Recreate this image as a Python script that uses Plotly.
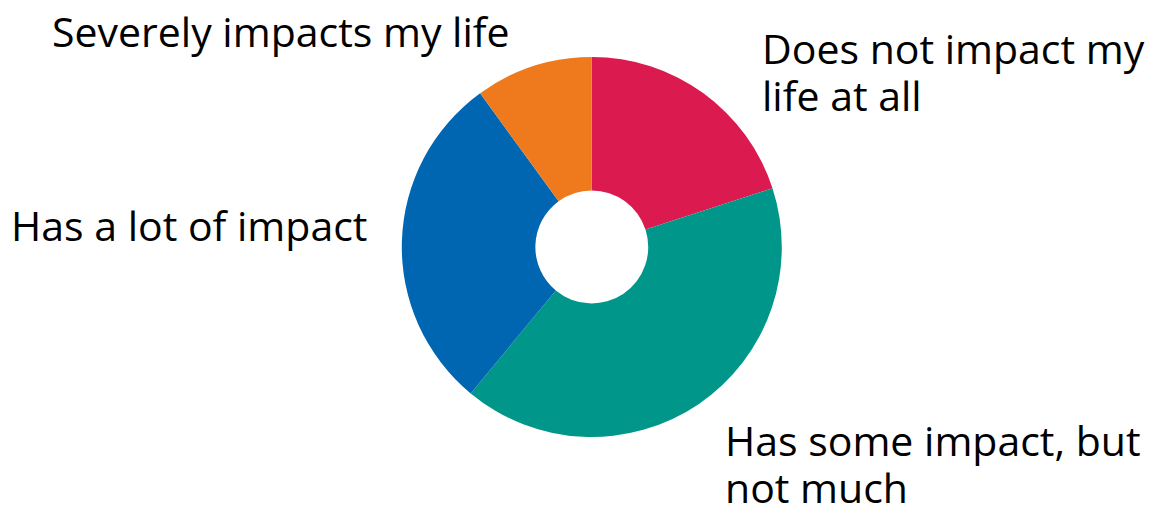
import plotly.graph_objects as go

# Survey responses: how much the condition affects daily life (%)
labels = [
    "Does not impact my life at all",
    "Has some impact, but not much",
    "Has a lot of impact",
    "Severely impacts my life",
]
values = [20, 41, 29, 10]
colors = ["#DB1A4F", "#00978A", "#0066B2", "#EF7A1E"]

# Label text beside the chart, split into its displayed lines
label_lines = [
    ["Does not impact my", "life at all"],
    ["Has some impact, but", "not much"],
    ["Has a lot of impact"],
    ["Severely impacts my life"],
]

W, H = 1153, 510
cx, cy, r = 591.8, 247.0, 190.0

fig = go.Figure(
    go.Pie(
        labels=labels,
        values=values,
        marker=dict(colors=colors, line=dict(width=0)),
        hole=0.297,
        sort=False,
        direction="clockwise",
        rotation=0,
        textinfo="none",
        hoverinfo="label+percent",
        domain=dict(
            x=[(cx - r) / W, (cx + r) / W],
            y=[1 - (cy + r) / H, 1 - (cy - r) / H],
        ),
        showlegend=False,
    )
)

# Left edge and first-line middle (pixels) for each label block
label_pos = [(760, 48), (723, 440), (9, 225), (50, 31)]
line_gap = 47

font = dict(family="Open Sans", size=41, color="#000000")
for lines, (px, py) in zip(label_lines, label_pos):
    for i, line in enumerate(lines):
        fig.add_annotation(
            x=px / W, y=1 - (py + i * line_gap) / H,
            xref="paper", yref="paper",
            text=line, showarrow=False, xanchor="left", yanchor="middle",
            align="left", font=font,
        )

fig.update_layout(
    width=W, height=H,
    margin=dict(l=0, r=0, t=0, b=0),
    paper_bgcolor="white", plot_bgcolor="white",
)

fig.write_html("out.html")
